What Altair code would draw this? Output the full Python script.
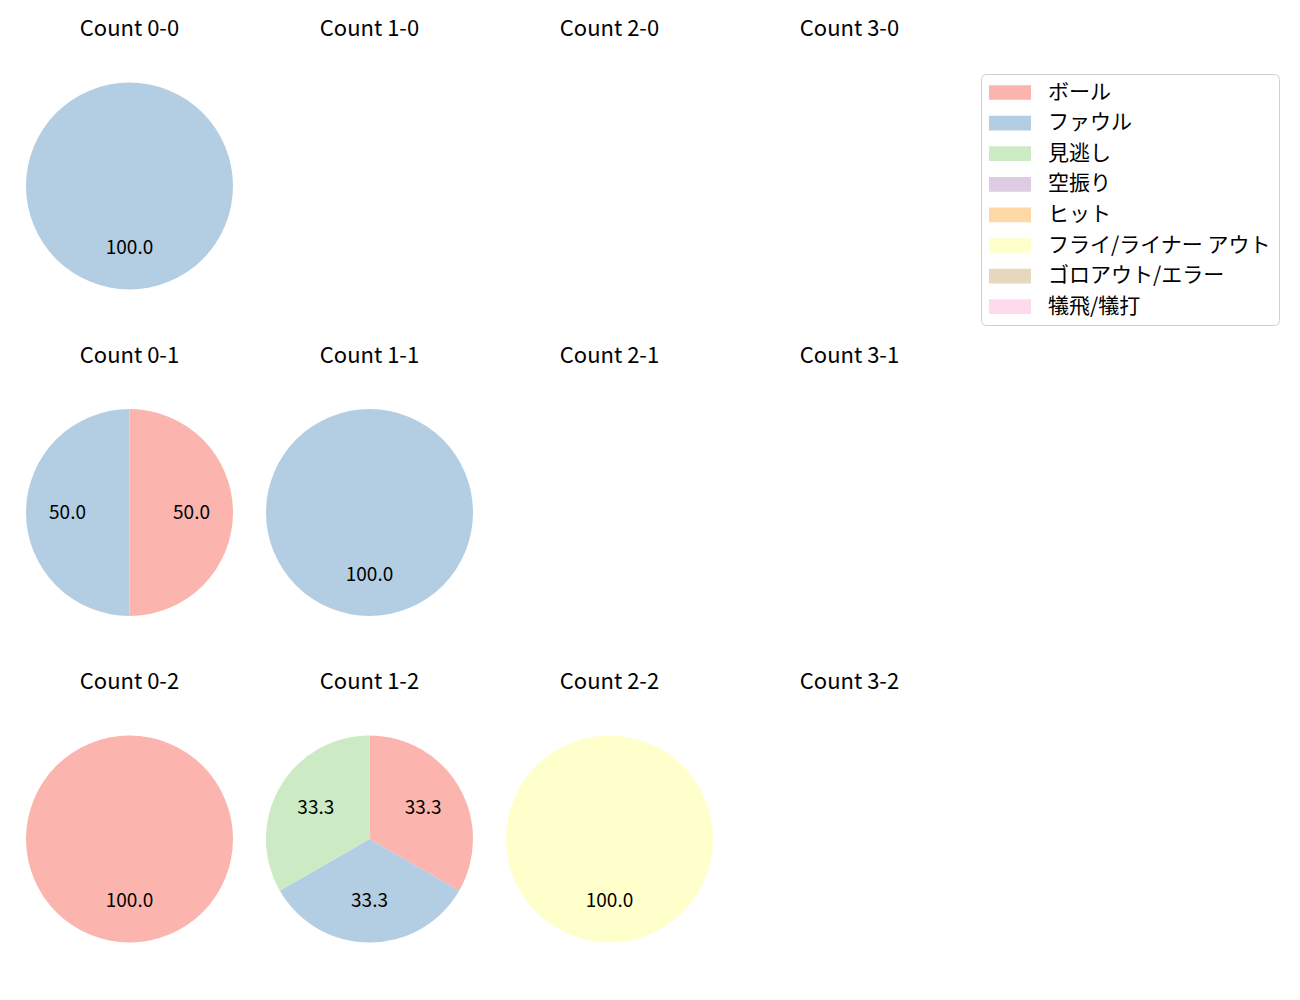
import altair as alt
import pandas as pd
import math

categories = ["ボール", "ファウル", "見逃し", "空振り", "ヒット",
              "フライ/ライナー アウト", "ゴロアウト/エラー", "犠飛/犠打"]
colors = ["#fbb4ae", "#b3cde3", "#ccebc5", "#decbe4", "#fed9a6",
          "#ffffcc", "#e5d8bd", "#fddaec"]

# every panel (balls-strikes)
panel_balls = [0, 1, 2, 3, 0, 1, 2, 3, 0, 1, 2, 3]
panel_strikes = [0, 0, 0, 0, 1, 1, 1, 1, 2, 2, 2, 2]

# slices present
slice_balls = [0, 0, 0, 1, 0, 1, 1, 1, 2]
slice_strikes = [0, 1, 1, 1, 2, 2, 2, 2, 2]
slice_category = ["ファウル", "ボール", "ファウル", "ファウル", "ボール",
                  "ボール", "ファウル", "見逃し", "フライ/ライナー アウト"]
slice_count = [1, 1, 1, 1, 1, 1, 1, 1, 1]

FONT = "Noto Sans CJK JP"

panels = pd.DataFrame({"balls": panel_balls, "strikes": panel_strikes})
slices = pd.DataFrame({
    "balls": slice_balls,
    "strikes": slice_strikes,
    "category": slice_category,
    "count": slice_count,
    "order": [categories.index(c) for c in slice_category],
})

xs = alt.Scale(domain=[0, 3], range=[129.5, 849.5], nice=False, zero=False)
ys = alt.Scale(domain=[0, 2], range=[186, 839], nice=False, zero=False)
ts = alt.Scale(domain=[0, 1], range=[0, 2 * math.pi])

base = alt.Chart(slices).transform_joinaggregate(
    total="sum(count)", groupby=["balls", "strikes"]
).transform_window(
    cum="sum(count)", groupby=["balls", "strikes"],
    sort=[alt.SortField("order")], frame=[None, 0]
).transform_calculate(
    end="datum.cum / datum.total"
).transform_calculate(
    start="(datum.cum - datum.count) / datum.total"
).transform_calculate(
    mid="(datum.start + datum.end) / 2",
    label="format(datum.count / datum.total * 100, '.1f')",
)

arcs = base.mark_arc(radius=103.5, stroke=None).encode(
    x=alt.X("balls:Q", scale=xs, axis=None),
    y=alt.Y("strikes:Q", scale=ys, axis=None),
    theta=alt.Theta("start:Q", scale=ts, stack=None),
    theta2="end:Q",
    color=alt.Color(
        "category:N",
        scale=alt.Scale(domain=categories, range=colors),
        legend=alt.Legend(
            title=None, orient="none", legendX=981, legendY=74,
            symbolType="M-1,-0.7H3V0.7H-1Z", symbolSize=441,
            symbolStrokeWidth=0, symbolOpacity=1,
            labelFont=FONT, labelFontSize=21, labelOffset=38, labelLimit=400,
            labelColor="black",
            rowPadding=8.6, padding=8,
            strokeColor="#d0d0d0", fillColor="white", cornerRadius=5,
        ),
    ),
)

labels = base.mark_text(radius=62, fontSize=19, font=FONT, color="black",
                        baseline="middle", align="center").encode(
    x=alt.X("balls:Q", scale=xs, axis=None),
    y=alt.Y("strikes:Q", scale=ys, axis=None),
    theta=alt.Theta("mid:Q", scale=ts, stack=None),
    text="label:N",
)

titles = alt.Chart(panels).transform_calculate(
    title="'Count ' + datum.balls + '-' + datum.strikes"
).mark_text(dy=-157, fontSize=22, font=FONT, color="black",
            baseline="middle", align="center").encode(
    x=alt.X("balls:Q", scale=xs, axis=None),
    y=alt.Y("strikes:Q", scale=ys, axis=None),
    text="title:N",
)

chart = alt.layer(arcs, labels, titles).properties(
    width=1300, height=1000,
    autosize=alt.AutoSizeParams(type="none"),
    padding=0, background="white",
).configure_view(stroke=None)

chart.save("out.html", embed_options={"renderer": "svg", "actions": False})
